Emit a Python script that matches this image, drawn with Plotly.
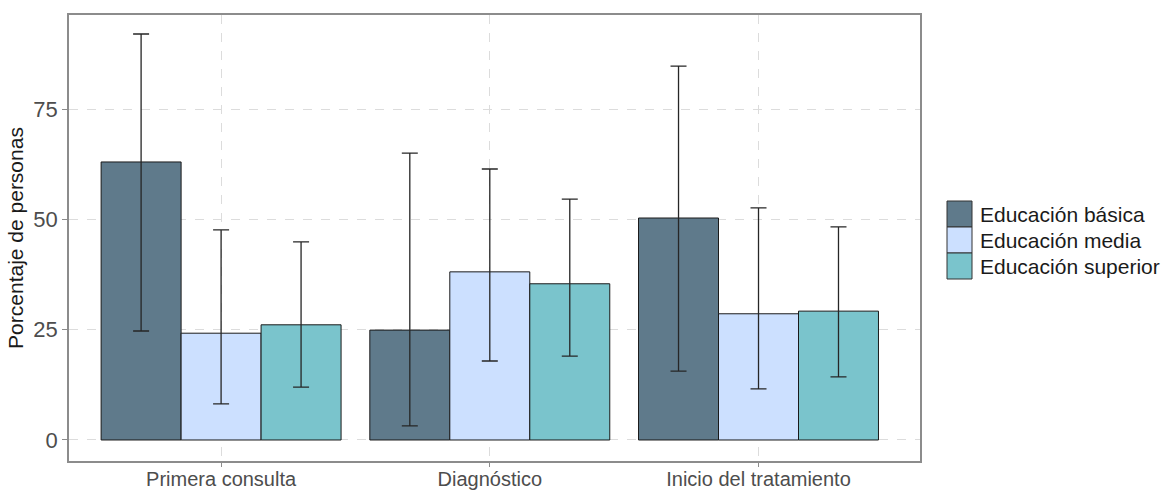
import plotly.graph_objects as go

# Data: percentage of people per stage and education level, with interval bounds
stages = ["Primera consulta", "Diagnóstico", "Inicio del tratamiento"]
levels = ["Educación básica", "Educación media", "Educación superior"]
colors = ["#5f7a8b", "#cce0ff", "#7ac4cc"]

basica = [63.0, 24.9, 50.3]
basica_lo = [24.7, 3.2, 15.6]
basica_hi = [92.0, 65.0, 84.7]

media = [24.2, 38.1, 28.6]
media_lo = [8.2, 17.9, 11.6]
media_hi = [47.6, 61.4, 52.6]

superior = [26.1, 35.4, 29.2]
superior_lo = [12.0, 19.0, 14.3]
superior_hi = [44.9, 54.6, 48.3]

y_ticks = [0, 25, 50, 75]

series = [
    (levels[0], basica, basica_lo, basica_hi, colors[0]),
    (levels[1], media, media_lo, media_hi, colors[1]),
    (levels[2], superior, superior_lo, superior_hi, colors[2]),
]

fig = go.Figure()
for name, vals, lo, hi, col in series:
    fig.add_trace(go.Bar(
        x=stages, y=vals, name=name,
        marker=dict(color=col, line=dict(color="#1a1a1a", width=1)),
        error_y=dict(
            type="data", symmetric=False,
            array=[h - v for h, v in zip(hi, vals)],
            arrayminus=[v - l for v, l in zip(vals, lo)],
            color="#262626", thickness=1.3, width=8,
        ),
        showlegend=False,
    ))

W, H = 1175, 491
ml, mr, mt, mb = 69, 255, 15, 30

fig.update_layout(
    width=W, height=H,
    margin=dict(l=ml, r=mr, t=mt, b=mb),
    barmode="group", bargap=0.107, bargroupgap=0,
    plot_bgcolor="white", paper_bgcolor="white",
    font=dict(family="Liberation Sans, Arial, sans-serif"),
)
fig.update_xaxes(
    range=[-0.566, 2.601], automargin=False,
    showline=True, mirror=True, linecolor="#8c8c8c", linewidth=1.5,
    showgrid=True, gridcolor="#dcdcdc", griddash="dash", gridwidth=1,
    ticks="outside", ticklen=4, tickcolor="#8c8c8c",
    ticklabelstandoff=-5,
    tickfont=dict(size=20, color="#4d4d4d"),
)
fig.update_yaxes(
    range=[-4.76, 96.3], automargin=False,
    tickvals=y_ticks,
    showline=True, mirror=True, linecolor="#8c8c8c", linewidth=1.5,
    showgrid=True, gridcolor="#dcdcdc", griddash="dash", gridwidth=1,
    zeroline=False,
    ticks="outside", ticklen=5, tickcolor="#8c8c8c",
    tickfont=dict(size=22, color="#4d4d4d"),
    title=dict(text="Porcentaje de personas", font=dict(size=21, color="#1a1a1a"), standoff=4),
)

# Legend drawn with shapes and text, keyed by fill colour
key_x0, key_x1 = 947, 972
key_tops = [201, 227, 253]
key_h = 26
for name, col, top in zip(levels, colors, key_tops):
    fig.add_shape(
        type="rect", xref="paper", yref="paper",
        x0=(key_x0 - ml) / (W - ml - mr), x1=(key_x1 - ml) / (W - ml - mr),
        y0=1 - (top + key_h - mt) / (H - mt - mb), y1=1 - (top - mt) / (H - mt - mb),
        fillcolor=col, line=dict(color="#333333", width=1),
    )
    fig.add_annotation(
        xref="paper", yref="paper",
        x=(978 - ml) / (W - ml - mr), y=1 - (top + key_h / 2 - mt) / (H - mt - mb),
        text=name, showarrow=False, xanchor="left", yanchor="middle",
        font=dict(size=21, color="#1a1a1a"),
    )

fig.write_html("out.html")
